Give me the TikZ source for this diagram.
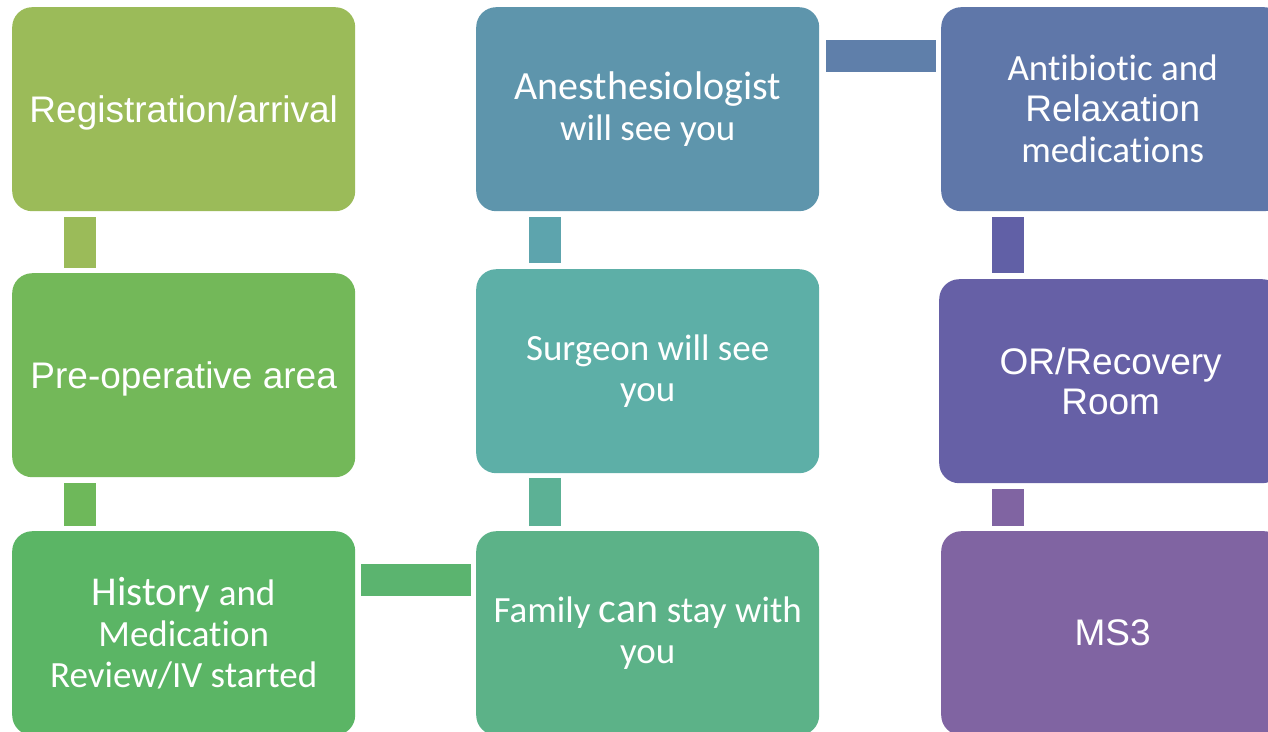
\documentclass[tikz,border=0pt]{standalone}
\usepackage{fontspec}
\setmainfont{Carlito}[Ligatures=NoCommon]
\newfontfamily\arialf{Liberation Sans}
\definecolor{c1}{RGB}{155,187,89}
\definecolor{c2}{RGB}{115,184,89}
\definecolor{c3}{RGB}{91,181,101}
\definecolor{c4}{RGB}{92,178,136}
\definecolor{c5}{RGB}{93,175,167}
\definecolor{c6}{RGB}{94,149,172}
\definecolor{c7}{RGB}{95,119,169}
\definecolor{c8}{RGB}{102,96,166}
\definecolor{c9}{RGB}{128,100,162}
\definecolor{b2}{RGB}{110,184,90}
\definecolor{b3}{RGB}{91,180,111}
\definecolor{b4}{RGB}{92,177,149}
\definecolor{b5}{RGB}{93,164,173}
\definecolor{b6}{RGB}{95,127,170}
\definecolor{b7}{RGB}{97,96,166}
\begin{document}
\begin{tikzpicture}[x=1pt,y=-1pt,
  stepbox/.style={rectangle, rounded corners=20pt, minimum width=343pt, minimum height=204pt,
    anchor=north west, inner sep=0pt, text=white, align=center,
    font=\fontsize{37}{41}\selectfont},
  arialbox/.style={stepbox, font=\arialf\fontsize{37}{40}\selectfont},
  bar/.style={line width=32pt, line cap=butt}]
\clip (0,0) rectangle (1268,731);
% column 1
\node[arialbox, fill=c1, text depth=0pt] (r1) at (12,7) {Registration/arrival};
\node[arialbox, fill=c2, text depth=0pt] (r2) at (12,273) {Pre-operative area};
\node[stepbox, fill=c3] (r3) at (12,531) {{\fontsize{41}{41}\selectfont History} and\\Medication\\Review/IV started};
% column 2
\node[stepbox, fill=c4] (r4) at (476,531) {Family {\fontsize{42}{41}\selectfont can} stay with\\you};
\node[stepbox, fill=c5] (r5) at (476,269) {Surgeon will see\\you};
\node[stepbox, fill=c6] (r6) at (476,7) {{\fontsize{40}{41}\selectfont Anesthesiologist}\\will see you};
% column 3
\node[stepbox, fill=c7] (r7) at (941,7) {Antibiotic and\\{\arialf Relaxation}\\medications};
\node[arialbox, fill=c8] (r8) at (939,279) {OR/Recovery\\Room};
\node[arialbox, fill=c9] (r9) at (941,531) {MS3};
% connectors
\draw[bar, c1] ([xshift=68pt,yshift=-6pt]r1.south west) -- ([xshift=68pt,yshift=5pt]r2.north west);
\draw[bar, b2] ([xshift=68pt,yshift=-6pt]r2.south west) -- ([xshift=68pt,yshift=5pt]r3.north west);
\draw[bar, b3] ([xshift=6pt,yshift=-49pt]r3.north east) -- ([xshift=-5pt,yshift=-49pt]r4.north west);
\draw[bar, b4] ([xshift=69pt,yshift=5pt]r4.north west) -- ([xshift=69pt,yshift=-5pt]r5.south west);
\draw[bar, b5] ([xshift=69pt,yshift=6pt]r5.north west) -- ([xshift=69pt,yshift=-6pt]r6.south west);
\draw[bar, b6] ([xshift=7pt,yshift=-49pt]r6.north east) -- ([xshift=-5pt,yshift=-49pt]r7.north west);
\draw[bar, b7] ([xshift=67pt,yshift=-6pt]r7.south west) -- ([xshift=69pt,yshift=6pt]r8.north west);
\draw[bar, c9] ([xshift=69pt,yshift=-6pt]r8.south west) -- ([xshift=67pt,yshift=5pt]r9.north west);
\end{tikzpicture}
\end{document}
